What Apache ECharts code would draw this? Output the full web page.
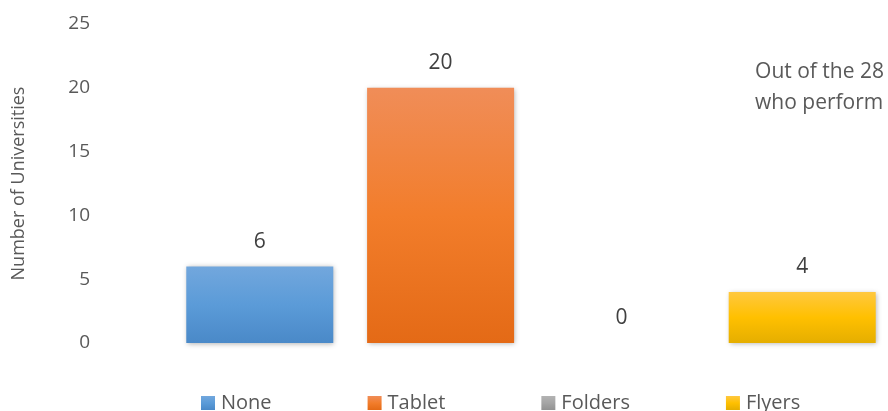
<!DOCTYPE html>
<html>
<head>
<meta charset="utf-8">
<script src="https://cdn.jsdelivr.net/npm/echarts@6/dist/echarts.min.js"></script>
<style>
  html, body { margin: 0; padding: 0; background: #fff; }
  #main { width: 888px; height: 411px; }
</style>
</head>
<body>
<div id="main"></div>
<script>
// 数据
var seriesNames = ['None', 'Tablet', 'Folders', 'Flyers'];
var seriesValues = [6, 20, 0, 4];
var yTicks = [0, 5, 10, 15, 20, 25];

// 每个系列的渐变色 (上, 中, 下)
var gradients = [
    ['#72a7dd', '#5b9bd8', '#4a89c8'],
    ['#f08d58', '#f27d2b', '#e46a16'],
    ['#b3b3b3', '#a5a5a5', '#929292'],
    ['#ffc840', '#ffc000', '#e5ae00']
];

var myChart = echarts.init(document.getElementById('main'));

var series = [];
for (let i = 0; i < seriesNames.length; i++) {
    let g = gradients[i];
    series.push({
        name: seriesNames[i],
        type: 'bar',
        data: [seriesValues[i]],
        barWidth: 147,
        barGap: '23%',
        itemStyle: {
            color: new echarts.graphic.LinearGradient(0, 0, 0, 1, [
                { offset: 0, color: g[0] },
                { offset: 0.5, color: g[1] },
                { offset: 1, color: g[2] }
            ]),
            shadowBlur: 5,
            shadowColor: 'rgba(0,0,0,0.3)',
            shadowOffsetX: 1,
            shadowOffsetY: 1
        },
        label: {
            show: true,
            position: 'top',
            distance: 14,
            color: '#404040',
            fontSize: 21,
            fontFamily: 'Open Sans'
        }
    });
}

var option = {
    animation: false,
    grid: { left: 174, right: 0, top: 24, bottom: 68 },
    legend: {
        data: seriesNames,
        left: 201,
        top: 393,
        padding: 0,
        itemWidth: 14,
        itemHeight: 14,
        itemGap: 96,
        icon: 'rect',
        textStyle: { color: '#595959', fontSize: 20, fontFamily: 'Open Sans', padding: [0, 0, 0, 1] }
    },
    xAxis: {
        type: 'category',
        data: [''],
        axisLine: { show: false },
        axisTick: { show: false },
        axisLabel: { show: false }
    },
    yAxis: {
        type: 'value',
        min: yTicks[0],
        max: yTicks[yTicks.length - 1],
        interval: 5,
        name: 'Number of Universities',
        nameLocation: 'middle',
        nameGap: 146,
        nameTextStyle: { color: '#595959', fontSize: 18, fontFamily: 'Open Sans' },
        axisLine: { show: false },
        axisTick: { show: false },
        splitLine: { show: false },
        axisLabel: { color: '#595959', fontSize: 19, fontFamily: 'Open Sans', margin: 84 }
    },
    graphic: [{
        type: 'text',
        right: 4,
        top: 57,
        style: {
            text: 'Out of the 28\nwho perform',
            fill: '#595959',
            font: '21px "Open Sans"',
            lineHeight: 31,
            align: 'left'
        }
    }],
    series: series
};

myChart.setOption(option);
</script>
</body>
</html>
